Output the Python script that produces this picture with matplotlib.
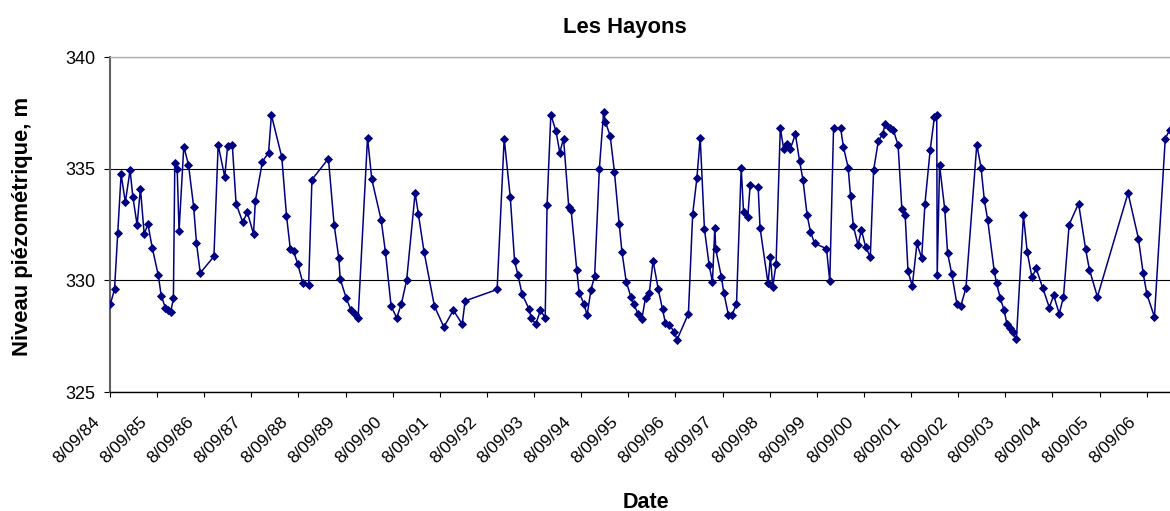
import matplotlib
matplotlib.use('Agg')
import matplotlib.pyplot as plt
import matplotlib.transforms as mtransforms

plt.rcParams['font.family'] = ['Liberation Sans', 'DejaVu Sans']

# observation dates as decimal years, and water level (m)
dates = [
    1984.69, 1984.78, 1984.85, 1984.92, 1985.01, 1985.11, 1985.17, 1985.26, 1985.33, 1985.41,
    1985.49, 1985.58, 1985.71, 1985.77, 1985.86, 1985.92, 1985.97, 1986.03, 1986.06, 1986.11,
    1986.15, 1986.25, 1986.35, 1986.46, 1986.52, 1986.60, 1986.89, 1986.98, 1987.12, 1987.18,
    1987.28, 1987.36, 1987.50, 1987.60, 1987.73, 1987.77, 1987.92, 1988.05, 1988.11, 1988.33,
    1988.43, 1988.51, 1988.58, 1988.67, 1988.78, 1988.90, 1988.97, 1989.32, 1989.44, 1989.54,
    1989.57, 1989.70, 1989.80, 1989.88, 1989.95, 1990.15, 1990.24, 1990.44, 1990.53, 1990.65,
    1990.77, 1990.87, 1990.98, 1991.16, 1991.23, 1991.35, 1991.57, 1991.77, 1991.97, 1992.16,
    1992.22, 1992.90, 1993.05, 1993.18, 1993.27, 1993.34, 1993.43, 1993.58, 1993.62, 1993.72,
    1993.82, 1993.92, 1993.96, 1994.04, 1994.15, 1994.23, 1994.31, 1994.42, 1994.47, 1994.59,
    1994.64, 1994.74, 1994.81, 1994.89, 1994.97, 1995.07, 1995.16, 1995.20, 1995.30, 1995.39,
    1995.49, 1995.55, 1995.64, 1995.74, 1995.80, 1995.89, 1995.97, 1996.05, 1996.13, 1996.21,
    1996.32, 1996.41, 1996.47, 1996.55, 1996.66, 1996.72, 1996.96, 1997.05, 1997.14, 1997.21,
    1997.30, 1997.40, 1997.47, 1997.52, 1997.54, 1997.66, 1997.71, 1997.81, 1997.88, 1997.98,
    1998.08, 1998.13, 1998.22, 1998.27, 1998.44, 1998.48, 1998.65, 1998.70, 1998.75, 1998.82,
    1998.91, 1998.98, 1999.06, 1999.12, 1999.23, 1999.32, 1999.39, 1999.48, 1999.55, 1999.64,
    1999.89, 1999.96, 2000.04, 2000.19, 2000.25, 2000.35, 2000.40, 2000.46, 2000.56, 2000.63,
    2000.72, 2000.82, 2000.89, 2000.99, 2001.08, 2001.14, 2001.24, 2001.31, 2001.41, 2001.49,
    2001.56, 2001.62, 2001.71, 2001.81, 2001.91, 2001.98, 2002.09, 2002.18, 2002.23, 2002.24,
    2002.29, 2002.40, 2002.46, 2002.55, 2002.66, 2002.74, 2002.85, 2003.08, 2003.17, 2003.24,
    2003.31, 2003.45, 2003.50, 2003.58, 2003.66, 2003.72, 2003.79, 2003.84, 2003.92, 2004.07,
    2004.15, 2004.25, 2004.34, 2004.48, 2004.62, 2004.71, 2004.83, 2004.92, 2005.04, 2005.24,
    2005.39, 2005.47, 2005.64, 2006.29, 2006.51, 2006.61, 2006.69, 2006.85, 2007.08, 2007.17,
]
levels = [
    328.92, 329.59, 332.14, 334.74, 333.50, 334.93, 333.73, 332.48, 334.11, 332.08,
    332.51, 331.47, 330.22, 329.32, 328.77, 328.66, 328.56, 329.19, 335.26, 335.00,
    332.20, 335.99, 335.18, 333.29, 331.67, 330.33, 331.07, 336.06, 334.63, 336.00,
    336.06, 333.44, 332.61, 333.04, 332.08, 333.57, 335.32, 335.72, 337.40, 335.52,
    332.90, 331.42, 331.30, 330.73, 329.86, 329.78, 334.51, 335.45, 332.50, 331.00,
    330.06, 329.19, 328.66, 328.48, 328.32, 336.39, 334.53, 332.69, 331.27, 328.84,
    328.32, 328.96, 330.01, 333.91, 332.95, 331.27, 328.84, 327.91, 328.66, 328.04,
    329.08, 329.59, 336.35, 333.71, 330.87, 330.26, 329.38, 328.71, 328.32, 328.04,
    328.66, 328.32, 333.36, 337.42, 336.67, 335.72, 336.35, 333.29, 333.17, 330.48,
    329.45, 328.96, 328.44, 329.56, 330.20, 335.00, 337.54, 337.09, 336.46, 334.85,
    332.54, 331.27, 329.93, 329.26, 328.93, 328.51, 328.25, 329.23, 329.45, 330.87,
    329.60, 328.71, 328.11, 328.02, 327.69, 327.35, 328.51, 332.96, 334.58, 336.39,
    332.29, 330.68, 329.93, 332.36, 331.39, 330.15, 329.45, 328.44, 328.44, 328.92,
    335.05, 333.06, 332.84, 334.26, 334.18, 332.35, 329.86, 331.05, 329.71, 330.75,
    336.82, 335.90, 336.12, 335.87, 336.54, 335.33, 334.51, 332.91, 332.17, 331.65,
    331.42, 329.96, 336.82, 336.82, 335.97, 335.05, 333.78, 332.44, 331.57, 332.27,
    331.50, 331.05, 334.93, 336.24, 336.54, 337.02, 336.84, 336.72, 336.05, 333.18,
    332.91, 330.41, 329.74, 331.65, 331.00, 333.44, 335.82, 337.31, 337.42, 330.26,
    335.15, 333.18, 331.23, 330.27, 328.92, 328.85, 329.66, 336.08, 335.05, 333.59,
    332.72, 330.41, 329.86, 329.19, 328.66, 328.04, 327.87, 327.69, 327.36, 332.91,
    331.27, 330.13, 330.53, 329.66, 328.78, 329.33, 328.51, 329.26, 332.50, 333.44,
    331.39, 330.48, 329.26, 333.91, 331.87, 330.33, 329.38, 328.36, 336.35, 336.72,
]

tick_years = list(range(1984, 2007))
tick_labels = ['8/09/%02d' % (y % 100) for y in tick_years]
y_ticks = [325, 330, 335, 340]

NAVY = '#000080'

fig = plt.figure(figsize=(11.7, 5.11), dpi=100)
ax = fig.add_axes([110 / 1170, 1 - 392 / 511, 1060 / 1170, 335 / 511])

ax.plot(dates, levels, color=NAVY, linewidth=1.1, marker='D',
        markersize=4.3, markerfacecolor=NAVY, markeredgecolor=NAVY,
        markeredgewidth=0.6, zorder=3)

# 8 September of each year
tick_pos = [y + 250 / 365.25 for y in tick_years]
ax.set_xlim(tick_pos[0], tick_pos[0] + 1060 / 47.12)
ax.set_ylim(325, 340)
ax.set_xticks(tick_pos)
ax.set_xticklabels(tick_labels, rotation=45, ha='right', va='baseline',
                   rotation_mode='anchor', fontsize=12.6)
ax.set_yticks(y_ticks)
ax.set_yticklabels([str(v) for v in y_ticks], fontsize=13)

ax.tick_params(axis='x', direction='out', length=3.6, width=0.8, pad=22, colors='black')
ax.tick_params(axis='y', direction='out', length=4.3, width=0.8, pad=6, colors='black')

# nudge the rotated date labels left like the original
shift = mtransforms.ScaledTranslation(-7 / 72, 3.5 / 72, fig.dpi_scale_trans)
for lbl in ax.get_xticklabels():
    lbl.set_transform(lbl.get_transform() + shift)

ax.yaxis.grid(True, color='black', linewidth=0.8)
ax.set_axisbelow(True)

ax.spines['right'].set_visible(False)
ax.spines['top'].set_color('#b0b0b0')
ax.spines['top'].set_linewidth(1.0)
ax.spines['left'].set_color('#606060')
ax.spines['left'].set_linewidth(1.5)
ax.spines['bottom'].set_color('black')
ax.spines['bottom'].set_linewidth(1.0)

fig.text(624.5 / 1170, 1 - 33.3 / 511, 'Les Hayons', ha='center', va='baseline',
         fontsize=15.8, fontweight='bold')
fig.text(646 / 1170, 1 - 508 / 511, 'Date', ha='center', va='baseline',
         fontsize=15.5, fontweight='bold')
fig.text(28.3 / 1170, 1 - 226 / 511, 'Niveau piézométrique, m', rotation=90,
         rotation_mode='anchor', ha='center', va='baseline',
         fontsize=15.8, fontweight='bold')

fig.savefig('out.png', dpi=100)
